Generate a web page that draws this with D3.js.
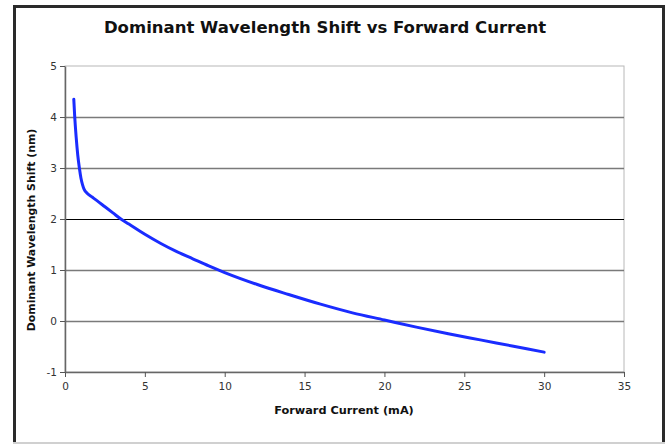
<!DOCTYPE html>
<html>
<head>
<meta charset="utf-8">
<script src="https://cdn.jsdelivr.net/npm/d3@7"></script>
<style>
  body { margin: 0; background: #fff; }
  svg { display: block; font-family: "DejaVu Sans", Verdana, sans-serif; }
</style>
</head>
<body>
<div id="chart"></div>
<script>
// Data
const currentMA = [0.55, 0.6, 0.7, 0.8, 0.9, 1.0, 1.1, 1.2, 1.4, 1.7, 2, 2.5, 3, 3.5, 4, 5, 6, 7, 8, 9, 10, 12, 14, 16, 18, 20, 22, 24, 26, 28, 30];
const shiftNm = [4.35, 4.05, 3.6, 3.25, 3.0, 2.8, 2.67, 2.58, 2.5, 2.43, 2.36, 2.24, 2.12, 2.0, 1.9, 1.7, 1.52, 1.36, 1.22, 1.08, 0.95, 0.72, 0.52, 0.33, 0.16, 0.02, -0.12, -0.25, -0.37, -0.49, -0.61];
const xTicks = [0, 5, 10, 15, 20, 25, 30, 35];
const yTicks = [-1, 0, 1, 2, 3, 4, 5];

const W = 669, H = 444;
const margin = { top: 66, right: 45, bottom: 72, left: 65 };
const width = W - margin.left - margin.right;
const height = H - margin.top - margin.bottom;

const svgRoot = d3.select("#chart")
    .append("svg")
    .attr("width", W)
    .attr("height", H);

// outer frame
svgRoot.append("rect")
    .attr("x", 14.5).attr("y", 6.5)
    .attr("width", 649).attr("height", 440)
    .attr("fill", "#fff")
    .attr("stroke", "#2a2a2a")
    .attr("stroke-width", 3);
svgRoot.append("line")
    .attr("x1", 13).attr("x2", 665)
    .attr("y1", 443).attr("y2", 443)
    .attr("stroke", "#d0d0d0")
    .attr("stroke-width", 2);

// title
svgRoot.append("text")
    .attr("x", 325).attr("y", 33)
    .attr("text-anchor", "middle")
    .style("font-size", "16.5px")
    .style("font-weight", "bold")
    .attr("fill", "#111")
    .text("Dominant Wavelength Shift vs Forward Current");

const svg = svgRoot.append("g")
    .attr("transform", `translate(${margin.left},${margin.top})`);

const x = d3.scaleLinear().domain([0, 35]).range([0, width]);
const y = d3.scaleLinear().domain([-1, 5]).range([height, 0]);

// plot border (light)
svg.append("rect")
    .attr("x", 0).attr("y", 0)
    .attr("width", width).attr("height", height)
    .attr("fill", "#fff")
    .attr("stroke", "#b8b8b8")
    .attr("stroke-width", 1);

// gridlines
svg.append("g")
    .selectAll("line")
    .data(yTicks.filter(d => d > -1 && d < 5))
    .join("line")
    .attr("x1", 0).attr("x2", width)
    .attr("y1", d => Math.round(y(d)) + 0.5)
    .attr("y2", d => Math.round(y(d)) + 0.5)
    .attr("stroke", d => d === 2 ? "#000" : "#7a7a7a")
    .attr("stroke-width", d => d === 2 ? 1 : 1.5);

// axes
const fmt = d => String(d);
const xAxis = svg.append("g")
    .attr("transform", `translate(0,${height})`)
    .call(d3.axisBottom(x).tickValues(xTicks).tickFormat(fmt).tickSize(5).tickSizeOuter(0).tickPadding(6));
const yAxis = svg.append("g")
    .call(d3.axisLeft(y).tickValues(yTicks).tickFormat(fmt).tickSize(5).tickSizeOuter(0).tickPadding(3));

[xAxis, yAxis].forEach(a => {
    a.selectAll(".domain").attr("stroke", "#666").attr("stroke-width", 1.5);
    a.selectAll(".tick line").attr("stroke", "#555");
    a.selectAll("text").style("font-size", "10.5px").attr("fill", "#333")
        .style("font-family", "'DejaVu Sans', Verdana, sans-serif");
});

// line
const pts = currentMA.map((c, i) => [c, shiftNm[i]]);
svg.append("path")
    .datum(pts)
    .attr("fill", "none")
    .attr("stroke", "#1a2cff")
    .attr("stroke-width", 3)
    .attr("stroke-linecap", "round")
    .attr("d", d3.line()
        .x(d => x(d[0]))
        .y(d => y(d[1]))
        .curve(d3.curveMonotoneX));

// axis labels
svgRoot.append("text")
    .attr("x", 344).attr("y", 414)
    .attr("text-anchor", "middle")
    .style("font-size", "11.3px")
    .style("font-weight", "bold")
    .attr("fill", "#111")
    .text("Forward Current (mA)");

svgRoot.append("text")
    .attr("transform", "translate(35,230) rotate(-90)")
    .attr("text-anchor", "middle")
    .style("font-size", "10.9px")
    .style("font-weight", "bold")
    .attr("fill", "#111")
    .text("Dominant Wavelength Shift (nm)");
</script>
</body>
</html>
